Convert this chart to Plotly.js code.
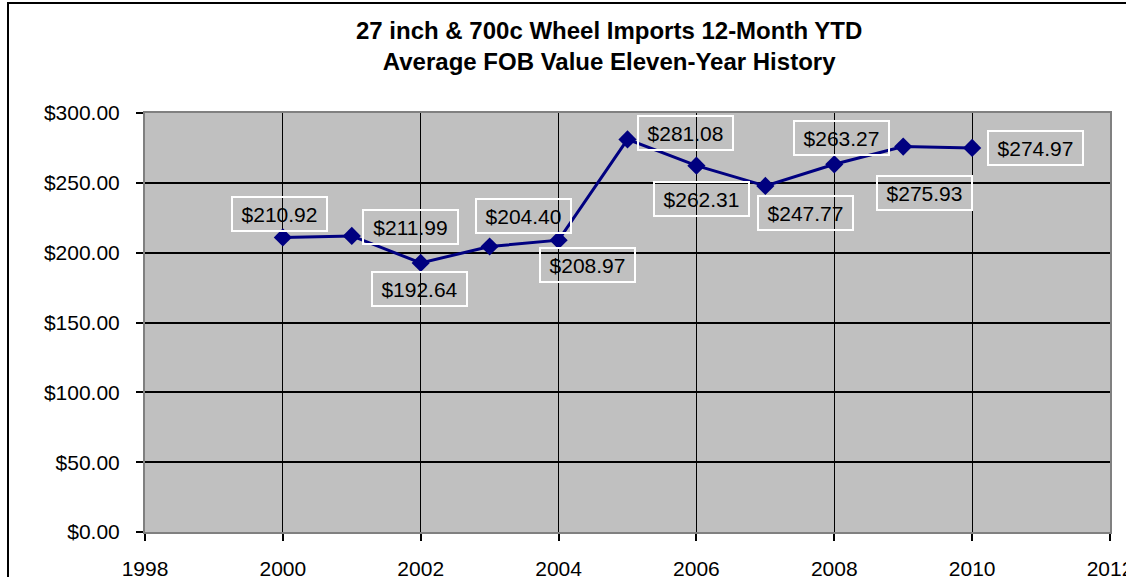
<!DOCTYPE html>
<html>
<head>
<meta charset="utf-8">
<script src="https://cdn.plot.ly/plotly-3.0.1.min.js"></script>
<style>
  html, body { margin: 0; padding: 0; background: #ffffff; overflow: hidden; }
  #chart { width: 1126px; height: 577px; position: absolute; left: 0; top: 0; }
  #frame { position: absolute; left: 7px; top: 2px; width: 3000px; height: 3000px;
           border: 2px solid #000; pointer-events: none; }
</style>
</head>
<body>
<div id="chart"></div>
<div id="frame"></div>
<script>
// ---- data ----
const years = [2000, 2001, 2002, 2003, 2004, 2005, 2006, 2007, 2008, 2009, 2010];
const avgFob = [210.92, 211.99, 192.64, 204.40, 208.97, 281.08, 262.31, 247.77, 263.27, 275.93, 274.97];
const titleLines = ["27 inch &amp; 700c Wheel Imports 12-Month YTD", "Average FOB Value Eleven-Year History"];

// label placement (pixel shifts from each point, styling only)
const labelShift = [[-3, 23], [59, 9], [-1, -26], [34, 31], [29, -25], [58, 6],
                    [5, -33], [40, -27], [7, 26], [21, -46], [63, 0]];

const FONT = '"Liberation Sans", Arial, sans-serif';

const trace = {
  x: years,
  y: avgFob,
  type: 'scatter',
  mode: 'lines+markers',
  line: { color: '#000080', width: 3 },
  marker: { symbol: 'diamond', size: 14, color: '#000080' },
  hoverinfo: 'x+y'
};

const annotations = years.map((yr, i) => ({
  x: yr, y: avgFob[i], xref: 'x', yref: 'y',
  text: '$' + avgFob[i].toFixed(2),
  showarrow: false,
  xshift: labelShift[i][0], yshift: labelShift[i][1],
  xanchor: 'center', yanchor: 'middle',
  font: { family: FONT, size: 21, color: '#000' },
  bordercolor: '#ffffff', borderwidth: 2, borderpad: 1,
  width: 91, height: 30,
  bgcolor: 'rgba(0,0,0,0)'
}));

const layout = {
  width: 1126, height: 577,
  margin: { l: 145, r: 16, t: 113, b: 45, pad: 0 },
  paper_bgcolor: 'rgba(0,0,0,0)',
  plot_bgcolor: '#C0C0C0',
  showlegend: false,
  font: { family: FONT, size: 21, color: '#000' },
  title: {
    text: '<b>' + titleLines.join('<br>') + '</b>',
    font: { family: FONT, size: 24, color: '#000' },
    x: 0.541, xanchor: 'center', xref: 'container',
    y: 0.932, yanchor: 'middle', yref: 'container'
  },
  xaxis: {
    range: [1998, 2012], dtick: 2, tick0: 1998,
    showgrid: true, gridcolor: '#000', gridwidth: 1,
    zeroline: false,
    showline: true, linecolor: '#808080', linewidth: 2, mirror: true,
    ticks: 'outside', ticklen: 7, tickcolor: '#000', tickwidth: 2,
    ticklabelstandoff: 10,
    ticklabeloverflow: 'allow',
    tickfont: { family: FONT, size: 21, color: '#000' },
    fixedrange: true
  },
  yaxis: {
    range: [0, 300], dtick: 50, tick0: 0,
    tickformat: '$.2f',
    showgrid: true, gridcolor: '#000', gridwidth: 2,
    zeroline: false,
    showline: true, linecolor: '#808080', linewidth: 2, mirror: true,
    ticks: 'outside', ticklen: 7, tickcolor: '#000', tickwidth: 2,
    ticklabelstandoff: 12,
    tickfont: { family: FONT, size: 21, color: '#000' },
    fixedrange: true
  },
  annotations: annotations
};

Plotly.newPlot('chart', [trace], layout, { displayModeBar: false, staticPlot: true });
</script>
</body>
</html>
